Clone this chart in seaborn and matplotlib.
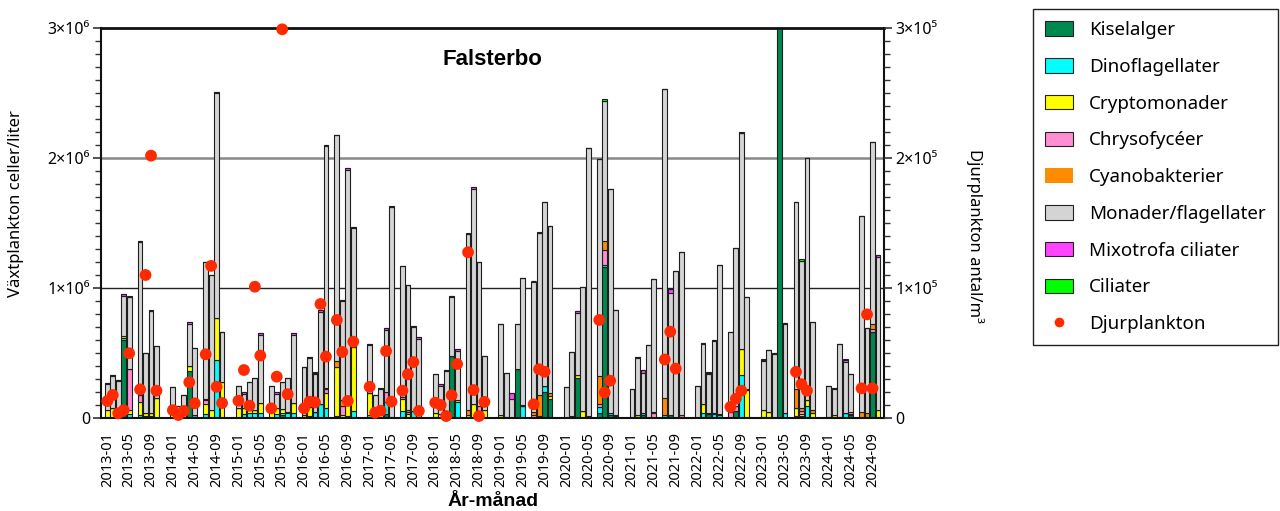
import numpy as np
import pandas as pd
import matplotlib
matplotlib.use("Agg")
import matplotlib.pyplot as plt
import seaborn as sns
from matplotlib.patches import Patch
from matplotlib.lines import Line2D
from matplotlib.ticker import FixedLocator, MultipleLocator, FixedFormatter

# ---------------- data ----------------
sample_dates = [
    "2013-01", "2013-02", "2013-03", "2013-04", "2013-05", "2013-07", "2013-08", "2013-09", "2013-10",
    "2014-01", "2014-02", "2014-03", "2014-04", "2014-05", "2014-07", "2014-08", "2014-09", "2014-10",
    "2015-01", "2015-02", "2015-03", "2015-04", "2015-05", "2015-07", "2015-08", "2015-09", "2015-10", "2015-11",
    "2016-01", "2016-02", "2016-03", "2016-04", "2016-05", "2016-07", "2016-08", "2016-09", "2016-10",
    "2017-01", "2017-02", "2017-03", "2017-04", "2017-05", "2017-07", "2017-08", "2017-09", "2017-10",
    "2018-01", "2018-02", "2018-03", "2018-04", "2018-05", "2018-07", "2018-08", "2018-09", "2018-10",
    "2019-01", "2019-02", "2019-03", "2019-04", "2019-05", "2019-07", "2019-08", "2019-09", "2019-10",
    "2020-01", "2020-02", "2020-03", "2020-04", "2020-05", "2020-07", "2020-08", "2020-09", "2020-10",
    "2021-01", "2021-02", "2021-03", "2021-04", "2021-05", "2021-07", "2021-08", "2021-09", "2021-10",
    "2022-01", "2022-02", "2022-03", "2022-04", "2022-05", "2022-07", "2022-08", "2022-09", "2022-10",
    "2023-01", "2023-02", "2023-03", "2023-04", "2023-05", "2023-07", "2023-08", "2023-09", "2023-10",
    "2024-01", "2024-02", "2024-03", "2024-04", "2024-05", "2024-07", "2024-08", "2024-09", "2024-10",
]

# phytoplankton, 1000 cells per litre
kiselalger = [
    0, 0, 0, 600, 0, 0, 0, 0, 0,
    0, 0, 0, 360, 0, 0, 0, 0, 0,
    0, 0, 0, 0, 0, 0, 0, 20, 0, 0,
    0, 0, 0, 0, 0, 0, 0, 0, 0,
    0, 0, 0, 30, 0, 0, 0, 0, 0,
    5, 0, 10, 480, 0, 0, 0, 0, 0,
    0, 5, 0, 375, 0, 0, 0, 200, 145,
    0, 0, 310, 0, 0, 35, 1160, 25, 15,
    0, 10, 20, 0, 0, 0, 25, 0, 0,
    0, 0, 30, 0, 0, 0, 55, 0, 0,
    5, 0, 0, 3800, 0, 0, 15, 0, 0,
    5, 0, 5, 0, 20, 0, 10, 660, 0,
]
dinoflagellater = [
    0, 0, 0, 15, 30, 20, 15, 15, 0,
    0, 0, 0, 0, 25, 30, 0, 450, 0,
    0, 30, 35, 35, 35, 0, 30, 15, 35, 35,
    0, 15, 50, 110, 80, 15, 0, 15, 55,
    20, 0, 0, 95, 0, 55, 0, 55, 0,
    0, 0, 0, 0, 125, 0, 0, 0, 0,
    0, 0, 0, 0, 90, 0, 15, 50, 0,
    0, 0, 0, 0, 15, 50, 20, 10, 10,
    0, 0, 15, 0, 0, 25, 0, 0, 0,
    0, 35, 0, 30, 20, 0, 0, 330, 0,
    0, 0, 0, 0, 35, 15, 0, 90, 0,
    0, 0, 0, 35, 0, 0, 0, 0, 0,
]
cryptomonader = [
    65, 75, 60, 15, 30, 100, 25, 25, 155,
    30, 30, 30, 40, 0, 80, 60, 320, 280,
    75, 45, 25, 25, 80, 75, 45, 35, 10, 80,
    20, 70, 0, 0, 115, 380, 20, 100, 490,
    175, 20, 50, 0, 10, 90, 30, 0, 35,
    30, 30, 0, 0, 15, 25, 105, 50, 60,
    25, 5, 0, 0, 0, 0, 0, 0, 25,
    0, 15, 20, 55, 0, 0, 0, 0, 0,
    0, 10, 0, 0, 0, 0, 0, 0, 0,
    0, 70, 12, 12, 0, 0, 0, 200, 215,
    60, 45, 0, 0, 0, 65, 15, 45, 35,
    5, 20, 5, 0, 12, 0, 0, 0, 60,
]
chrysofyceer = [
    0, 0, 0, 0, 320, 60, 0, 0, 0,
    0, 0, 0, 0, 0, 25, 0, 0, 0,
    0, 0, 0, 0, 0, 0, 0, 0, 0, 0,
    0, 0, 0, 0, 25, 0, 70, 0, 0,
    0, 0, 0, 75, 0, 15, 15, 0, 0,
    0, 0, 0, 0, 0, 0, 0, 40, 0,
    0, 0, 0, 0, 0, 20, 0, 0, 0,
    0, 0, 0, 0, 0, 20, 110, 0, 0,
    0, 0, 0, 0, 35, 0, 0, 0, 20,
    0, 0, 0, 0, 12, 50, 40, 0, 0,
    0, 0, 0, 0, 0, 0, 25, 0, 0,
    0, 0, 0, 0, 15, 0, 0, 25, 0,
]
cyanobakterier = [
    0, 0, 0, 0, 0, 0, 0, 0, 0,
    0, 0, 0, 0, 0, 8, 0, 0, 0,
    0, 0, 0, 0, 0, 0, 0, 0, 0, 0,
    0, 0, 0, 0, 13, 40, 45, 0, 0,
    0, 0, 0, 0, 0, 0, 20, 0, 0,
    0, 0, 0, 0, 0, 40, 0, 0, 0,
    0, 0, 0, 0, 8, 30, 160, 0, 20,
    0, 0, 0, 0, 0, 215, 70, 0, 0,
    0, 0, 0, 0, 8, 130, 0, 0, 0,
    0, 0, 0, 0, 0, 0, 0, 0, 10,
    0, 0, 0, 0, 0, 145, 20, 0, 25,
    0, 0, 0, 0, 0, 50, 30, 35, 0,
]
monader = [
    200, 245, 225, 310, 550, 1175, 460, 780, 395,
    210, 60, 150, 320, 515, 1057, 1040, 1730, 380,
    175, 110, 220, 245, 525, 175, 110, 210, 260, 525,
    370, 375, 290, 705, 1857, 1745, 765, 1795, 915,
    365, 160, 170, 480, 1610, 1010, 955, 645, 575,
    305, 220, 350, 450, 375, 1350, 1655, 1110, 420,
    695, 340, 150, 345, 982, 1000, 1245, 1410, 1290,
    240, 495, 480, 955, 2065, 1670, 1080, 1725, 805,
    220, 440, 315, 560, 1027, 2375, 935, 1130, 1260,
    250, 465, 298, 548, 1148, 610, 1215, 1660, 705,
    375, 475, 490, 0, 690, 1435, 1135, 1865, 680,
    240, 200, 560, 395, 293, 1500, 650, 1400, 1180,
]
mixotrofa = [
    5, 10, 5, 10, 0, 5, 0, 0, 0,
    0, 0, 0, 20, 0, 0, 0, 10, 0,
    0, 15, 0, 5, 10, 0, 15, 0, 5, 10,
    0, 10, 10, 15, 10, 0, 10, 10, 10,
    10, 0, 10, 10, 0, 0, 0, 10, 10,
    0, 10, 10, 10, 15, 0, 20, 0, 0,
    0, 0, 40, 0, 0, 0, 0, 0, 0,
    0, 0, 10, 0, 0, 0, 0, 0, 0,
    0, 10, 20, 0, 0, 0, 30, 0, 0,
    0, 10, 10, 10, 0, 0, 0, 0, 0,
    10, 0, 10, 0, 5, 0, 0, 0, 0,
    0, 10, 0, 20, 0, 0, 0, 0, 10,
]
ciliater = [
    0, 0, 0, 0, 10, 0, 0, 10, 0,
    0, 0, 0, 0, 0, 0, 0, 0, 0,
    0, 0, 0, 0, 0, 0, 0, 0, 0, 0,
    0, 0, 0, 0, 0, 0, 0, 0, 0,
    0, 0, 0, 0, 10, 0, 0, 0, 0,
    0, 0, 0, 0, 0, 5, 0, 0, 0,
    0, 0, 0, 0, 0, 0, 10, 0, 0,
    0, 0, 0, 0, 0, 0, 10, 0, 0,
    0, 0, 0, 0, 0, 0, 0, 0, 0,
    0, 0, 0, 0, 0, 0, 0, 10, 0,
    0, 0, 0, 0, 0, 0, 10, 0, 0,
    0, 0, 0, 0, 0, 0, 0, 0, 0,
]

# zooplankton, individuals per m3 (nan = no sample)
nan = np.nan
djurplankton = [
    13000, 17700, 3600, 6000, 49800, 22000, 110000, 201800, 21000,
    6000, 2300, 5400, 27500, 11300, 49000, 117000, 24000, 11500,
    13300, 36900, 9500, 101000, 48000, 7400, 31800, 299000, 18300, nan,
    7400, 12600, 12000, 87700, 47200, 75400, 50800, 13100, 58700,
    24000, 4100, 5600, 51500, 12600, 21000, 33600, 43000, 5400,
    11800, 10000, 1500, 17500, 41500, 127500, 21500, 1500, 12400,
    nan, nan, nan, nan, nan, 10500, 37500, 35600, nan,
    nan, nan, nan, nan, nan, 75400, 19600, 28700, nan,
    nan, nan, nan, nan, nan, 45000, 66400, 38000, nan,
    nan, nan, nan, nan, nan, 8500, 14800, 21000, nan,
    nan, nan, nan, nan, nan, 35500, 26000, 21000, nan,
    nan, nan, nan, nan, nan, 22800, 79700, 22800, nan,
]

groups = ["Kiselalger", "Dinoflagellater", "Cryptomonader", "Chrysofycéer",
          "Cyanobakterier", "Monader/flagellater", "Mixotrofa ciliater", "Ciliater"]
group_values = [kiselalger, dinoflagellater, cryptomonader, chrysofyceer,
                cyanobakterier, monader, mixotrofa, ciliater]
colors = ["#00894F", "#00FFFF", "#FFFF00", "#FF8FD2",
          "#FF8C00", "#D4D4D4", "#FF44FF", "#00FF00"]

tick_labels = [f"{y}-{m:02d}" for y in range(2013, 2025) for m in (1, 5, 9)]

# ---------------- build frames ----------------
month_index = [(int(d[:4]) - 2013) * 12 + int(d[5:]) - 1 for d in sample_dates]
n = len(sample_dates)
phyto = pd.DataFrame({
    "month": np.tile(month_index, len(groups)),
    "grupp": np.repeat(groups, n),
    "celler": np.concatenate([np.asarray(v, float) for v in group_values]) * 1000.0,
})
zoo = pd.DataFrame({"month": month_index, "djur": djurplankton}).dropna()

# ---------------- style ----------------
sns.set_style("white")
plt.rcParams["font.family"] = ["Noto Sans", "DejaVu Sans"]
plt.rcParams.update({"text.color": "black", "axes.labelcolor": "black",
                     "xtick.color": "black", "ytick.color": "black"})
BOLD = ["Liberation Sans", "DejaVu Sans"]

fig = plt.figure(figsize=(12.8, 5.11), dpi=100)
ax = fig.add_axes([101 / 1280, 1 - 418 / 511, 783 / 1280, 390 / 511])

sns.histplot(data=phyto, x="month", hue="grupp", weights="celler",
             discrete=True, multiple="stack", hue_order=groups[::-1],
             palette=dict(zip(groups, colors)), shrink=0.88, alpha=1,
             edgecolor="#1e1e1e", linewidth=0.8, legend=False, ax=ax)

ax.set_xlim(-1.15, 142.1)
ax.set_ylim(0, 3e6)
ax.xaxis.set_major_locator(FixedLocator([(int(t[:4]) - 2013) * 12 + int(t[5:]) - 1 for t in tick_labels]))
ax.xaxis.set_major_formatter(FixedFormatter(tick_labels))
ax.yaxis.set_major_locator(FixedLocator([0, 1e6, 2e6, 3e6]))
ax.yaxis.set_major_formatter(FixedFormatter(["0", "1×10⁶", "2×10⁶", "3×10⁶"]))
ax.yaxis.set_minor_locator(MultipleLocator(1e5))

ax.tick_params(axis="x", which="major", direction="out", length=8, width=1.2,
               color="#333333", labelcolor="black", labelsize=10.5,
               labelrotation=90, pad=2)
ax.tick_params(axis="y", which="major", direction="out", length=6, width=1.2,
               color="#333333", labelcolor="black", labelsize=11.5, pad=2)
ax.tick_params(axis="y", which="minor", direction="out", length=4.5, width=1,
               color="#333333")

ax.set_axisbelow(True)
ax.yaxis.grid(True, which="major")
for val, gl in zip([0, 1e6, 2e6, 3e6], ax.get_ygridlines()):
    if val == 1e6:
        gl.set_color("#222222"); gl.set_linewidth(1.0)
    elif val == 2e6:
        gl.set_color("#888888"); gl.set_linewidth(1.8)
    else:
        gl.set_visible(False)
ax.xaxis.grid(False)

for s in ax.spines.values():
    s.set_color("#111111")
    s.set_linewidth(1.5)
ax.spines["top"].set_linewidth(2.0)

ax.set_xlabel("År-månad", fontsize=14, fontweight="bold", family=BOLD,
              va="center", color="black")
ax.xaxis.set_label_coords(0.5006, -0.215)
ax.set_ylabel("Växtplankton celler/liter", fontsize=12, va="center", color="black")
ax.yaxis.set_label_coords(-0.109, 0.551)

ax.text(0.5, 0.92, "Falsterbo", transform=ax.transAxes, ha="center",
        va="center", fontsize=16, fontweight="bold", family=BOLD, color="black")

# zooplankton on twin axis
ax2 = ax.twinx()
sns.scatterplot(data=zoo, x="month", y="djur", color="#FF2A00", s=72,
                edgecolor="none", linewidth=0, ax=ax2, clip_on=False, zorder=5)
ax2.set_ylim(0, 3e5)
ax2.set_xlim(-1.15, 142.1)
ax2.yaxis.set_major_locator(FixedLocator([0, 1e5, 2e5, 3e5]))
ax2.yaxis.set_major_formatter(FixedFormatter(["0", "1×10⁵", "2×10⁵", "3×10⁵"]))
ax2.yaxis.set_minor_locator(MultipleLocator(1e4))
ax2.tick_params(axis="y", which="major", direction="out", length=6, width=1.2,
                color="#333333", labelcolor="black", labelsize=11.5, pad=2)
ax2.tick_params(axis="y", which="minor", direction="out", length=4.5, width=1,
                color="#333333")
ax2.set_xlabel("")
ax2.set_ylabel("Djurplankton antal/m³", fontsize=12, rotation=270, va="center",
               color="black")
ax2.yaxis.set_label_coords(1.116, 0.467)
ax2.grid(False)
for s in ax2.spines.values():
    s.set_visible(False)

# legend
handles = []
for g, c in zip(groups, colors):
    if g == "Cyanobakterier":
        handles.append(Patch(facecolor=c, edgecolor="none"))
    else:
        handles.append(Patch(facecolor=c, edgecolor="#222222", linewidth=0.8))
handles.append(Line2D([], [], marker="o", linestyle="none", color="#FF2A00",
                      markersize=7, markeredgewidth=0))
labels = groups + ["Djurplankton"]
leg = fig.legend(handles, labels, loc="upper left",
                 bbox_to_anchor=(1033 / 1280, 1 - 9 / 511), frameon=True,
                 fancybox=False, edgecolor="#222222", framealpha=1,
                 fontsize=13.5, handlelength=1.5, handleheight=0.8,
                 labelspacing=1.0, borderpad=0.65, handletextpad=0.85,
                 borderaxespad=0)
leg.get_frame().set_linewidth(1.0)
for t in leg.get_texts():
    t.set_color("black")

fig.savefig("out.png", dpi=100)
